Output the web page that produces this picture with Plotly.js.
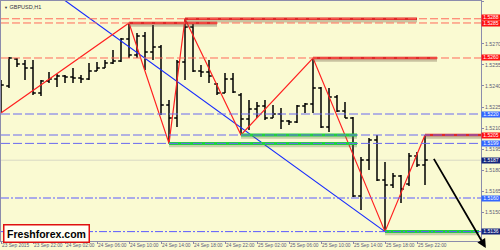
<!DOCTYPE html>
<html><head><meta charset="utf-8">
<script src="https://cdn.plot.ly/plotly-3.0.1.min.js"></script>
<style>html,body{margin:0;padding:0;background:#FAFAD2;}#chart{width:500px;height:250px;}</style>
</head><body><div id="chart"></div>
<script>
// ---- DATA ----
const firstBar = [2015, 9, 23, 18]; // GBPUSD H1, first bar 23 Sep 2015 18:00
const opens  = [1.5230,1.5240,1.52593,1.52557,1.52529,1.5235,1.52436,1.5245,1.52471,1.52464,1.52457,1.5245,1.52507,1.52529,1.52564,1.52579,1.52736,1.52621,1.52757,1.52643,1.52679,1.52264,1.52171,1.52571,1.52821,1.52507,1.5250,1.52414,1.5235,1.5245,1.52336,1.52164,1.52236,1.52257,1.52171,1.5220,1.5215,1.52143,1.52257,1.52271,1.52386,1.52107,1.52321,1.52221,1.52171,1.51614,1.51871,1.52014,1.51729,1.51693,1.51757,1.5170,1.5190,1.51836];
const highs  = [1.52443,1.52607,1.5260,1.52586,1.52586,1.52443,1.5250,1.52486,1.52479,1.52529,1.52479,1.52564,1.52571,1.52586,1.52657,1.52743,1.5285,1.52779,1.52786,1.52836,1.52693,1.5230,1.52586,1.5288,1.52843,1.5255,1.52586,1.52421,1.52493,1.52493,1.5235,1.5230,1.52286,1.5230,1.52264,1.52243,1.52157,1.52264,1.52279,1.5260,1.52393,1.52386,1.52336,1.52286,1.52179,1.51893,1.52029,1.5205,1.51857,1.51779,1.51764,1.51921,1.51929,1.5205];
const lows   = [1.52207,1.52386,1.52536,1.52443,1.52336,1.52329,1.52421,1.52393,1.52421,1.52421,1.52421,1.52443,1.52507,1.52529,1.52557,1.52571,1.5260,1.5260,1.52514,1.52586,1.52193,1.5199,1.52107,1.52443,1.5250,1.52464,1.52421,1.52336,1.5235,1.5235,1.5205,1.52086,1.52171,1.52157,1.52171,1.52093,1.52121,1.52136,1.52207,1.52207,1.5210,1.52071,1.52214,1.52171,1.51607,1.51514,1.5180,1.51721,1.5136,1.51671,1.51564,1.51686,1.51821,1.51693];
const closes = [1.52407,1.5260,1.52557,1.52529,1.5235,1.52436,1.5245,1.52471,1.52464,1.52457,1.5245,1.52507,1.52529,1.52564,1.52579,1.52736,1.52621,1.52757,1.52643,1.52679,1.52264,1.52171,1.52571,1.52821,1.52507,1.5250,1.52471,1.5235,1.5245,1.52357,1.52164,1.52236,1.52257,1.52171,1.5220,1.5215,1.52143,1.52257,1.52271,1.52386,1.52107,1.52321,1.52221,1.52171,1.51614,1.51871,1.52014,1.51729,1.51693,1.51757,1.51664,1.5190,1.51836,1.51871];

const zigzagTimes  = ['2015-09-23 18:00','2015-09-24 10:00','2015-09-24 15:00','2015-09-24 17:00','2015-09-25 00:00','2015-09-25 09:00','2015-09-25 18:00','2015-09-25 23:00'];
const zigzagPrices = [1.52207,1.5285,1.5199,1.5288,1.5205,1.5260,1.5136,1.5205];

const trendTimes  = ['2015-09-24 02:00','2015-09-25 18:00'];
const trendPrices = [1.5301,1.5136];

const redLevels  = [1.5288,1.5285,1.5260,1.5205];
const redFrom    = ['2015-09-24 17:00','2015-09-24 10:00','2015-09-25 09:00','2015-09-25 23:00'];
const redTo      = ['2015-09-25 22:00','2015-09-24 21:00','2015-09-26 00:30','2015-09-26 06:00'];
const greenLevels = [1.5205,1.5199,1.5136];
const greenFrom   = ['2015-09-25 00:00','2015-09-24 15:00','2015-09-25 18:00'];
const greenTo     = ['2015-09-25 14:30','2015-09-25 14:30','2015-09-26 05:45'];

const redDashed   = [1.5288,1.5285,1.5260];
const blueDashed  = [1.5220,1.5205,1.5199];
const blueDashDot = [1.5160,1.5136];
const bidPrice    = 1.5187;

const tagValues = [1.5288,1.5285,1.5260,1.5205,1.5220,1.5199,1.5160,1.5187,1.5136];
const tagColors = ['#FF1010','#FF1010','#FF1010','#FF1010','#3366FF','#3366FF','#3366FF','#14247A','#14247A'];

const arrowFrom = ['2015-09-26 00:00', 1.5189];
const arrowTo   = ['2015-09-26 06:36', 1.51243];

const priceTicks = [1.5150,1.5165,1.5180,1.5195,1.5210,1.5225,1.5240,1.5255,1.5270,1.5300];
const tickTimes  = ['2015-09-23 18:00','2015-09-23 22:00','2015-09-24 02:00','2015-09-24 06:00','2015-09-24 10:00','2015-09-24 14:00','2015-09-24 18:00','2015-09-24 22:00','2015-09-25 02:00','2015-09-25 06:00','2015-09-25 10:00','2015-09-25 14:00','2015-09-25 18:00','2015-09-25 22:00'];
const tickLabels = ['23 Sep 2015','23 Sep 22:00','24 Sep 02:00','24 Sep 06:00','24 Sep 10:00','24 Sep 14:00','24 Sep 18:00','24 Sep 22:00','25 Sep 02:00','25 Sep 06:00','25 Sep 10:00','25 Sep 14:00','25 Sep 18:00','25 Sep 22:00'];

const xRange = ['2015-09-23 18:00','2015-09-26 06:00'];
const yRange = [1.51293,1.53007];

// ---- BUILD ----
function pad(n){return (n<10?'0':'')+n;}
const times = opens.map((_, k) => {
  const d = new Date(Date.UTC(firstBar[0], firstBar[1]-1, firstBar[2], firstBar[3] + k));
  return d.getUTCFullYear()+'-'+pad(d.getUTCMonth()+1)+'-'+pad(d.getUTCDate())+' '+pad(d.getUTCHours())+':00';
});

const FONT = 'Liberation Sans, Arial, sans-serif';
const BG = '#FAFAD2';

const traces = [
  {type:'ohlc', x:times, open:opens, high:highs, low:lows, close:closes,
   increasing:{line:{color:'#000000', width:1.5}}, decreasing:{line:{color:'#000000', width:1.5}},
   tickwidth:0.35, hoverinfo:'skip', showlegend:false},
  {type:'scatter', mode:'lines', x:trendTimes, y:trendPrices, line:{color:'#1428FF', width:1.2}, hoverinfo:'skip', showlegend:false},
  {type:'scatter', mode:'lines', x:zigzagTimes, y:zigzagPrices, line:{color:'#FF2020', width:1.2}, hoverinfo:'skip', showlegend:false}
];

const shapes = [];
shapes.push({type:'line', xref:'paper', x0:0, x1:1, yref:'y', y0:bidPrice, y1:bidPrice, line:{color:'#D8D8C4', width:1}, layer:'below'});
greenLevels.forEach((v,i)=>{
  shapes.push({type:'line', xref:'x', x0:greenFrom[i], x1:greenTo[i], yref:'y', ysizemode:'pixel', yanchor:v, y0:-1.5, y1:-1.5, line:{color:'rgba(90,110,70,0.3)', width:4.5}});
  shapes.push({type:'line', xref:'x', x0:greenFrom[i], x1:greenTo[i], yref:'y', y0:v, y1:v, line:{color:'#22D040', width:3}});
});
redLevels.forEach((v,i)=>{
  shapes.push({type:'line', xref:'x', x0:redFrom[i], x1:redTo[i], yref:'y', ysizemode:'pixel', yanchor:v, y0:-1.5, y1:-1.5, line:{color:'rgba(110,90,70,0.35)', width:4.5}});
  shapes.push({type:'line', xref:'x', x0:redFrom[i], x1:redTo[i], yref:'y', y0:v, y1:v, line:{color:'#E02828', width:2.5}});
});
redDashed.forEach(v=>shapes.push({type:'line', xref:'paper', x0:0, x1:1, yref:'y', y0:v, y1:v, line:{color:'#FF6A5A', width:1, dash:'8px,3px'}}));
blueDashed.forEach(v=>shapes.push({type:'line', xref:'paper', x0:0, x1:1, yref:'y', y0:v, y1:v, line:{color:'#6A6AF0', width:1, dash:'9px,3px'}}));
blueDashDot.forEach(v=>shapes.push({type:'line', xref:'paper', x0:0, x1:1, yref:'y', y0:v, y1:v, line:{color:'#5A5AFF', width:1, dash:'8px,2px,2px,2px'}}));

const annotations = [];
const tagNudge = [1, -1, 0, 0, 0, 0, 0, 0, 0];
tagValues.forEach((v,i)=>annotations.push({xref:'paper', x:1, xanchor:'left', xshift:0, yref:'y', y:v, yanchor:'middle', yshift:tagNudge[i],
  text:v.toFixed(4), showarrow:false, bgcolor:tagColors[i], width:18, height:4.8, borderpad:0,
  font:{family:FONT, size:5, color:'#FFFFFF'}}));
tickTimes.forEach((t,i)=>annotations.push({xref:'x', x:t, xanchor:'left', xshift:0, yref:'paper', y:0, yanchor:'top', yshift:-0.5,
  text:tickLabels[i], showarrow:false, borderpad:0, font:{family:FONT, size:4.8, color:'#5A5A78'}}));
annotations.push({xref:'x', yref:'y', x:arrowTo[0], y:arrowTo[1], axref:'x', ayref:'y', ax:arrowFrom[0], ay:arrowFrom[1],
  showarrow:true, arrowhead:2, arrowsize:1, arrowwidth:1.8, arrowcolor:'#000000', text:''});
annotations.push({xref:'paper', yref:'paper', x:0, y:1, xanchor:'left', yanchor:'top', xshift:1, yshift:-1,
  text:'<span style="font-size:4px">▼</span> GBPUSD,H1', showarrow:false, font:{family:FONT, size:5.5, color:'#333344'}});
annotations.push({xref:'paper', yref:'paper', x:0.0042, y:-0.008, xanchor:'left', yanchor:'bottom',
  text:'<b>Freshforex.com</b>', showarrow:false, bgcolor:'#FFFFF4', bordercolor:'#E01010', borderwidth:1.5,
  width:82, height:14, borderpad:1, font:{family:FONT, size:10.5, color:'#000000'}});

const layout = {
  width:500, height:250,
  margin:{l:1, r:19, t:1, b:9, pad:0},
  paper_bgcolor:BG, plot_bgcolor:BG,
  showlegend:false,
  xaxis:{type:'date', range:xRange, showgrid:false, zeroline:false, rangeslider:{visible:false},
    tickvals:tickTimes, ticks:'outside', ticklen:2, tickcolor:'#8888AA', showticklabels:false,
    showline:true, mirror:true, linecolor:'#8C8CAC', linewidth:1, fixedrange:true},
  yaxis:{side:'right', range:yRange, showgrid:false, zeroline:false, tickvals:priceTicks, tickformat:'.4f',
    ticks:'outside', ticklen:2, tickcolor:'#8888AA', tickfont:{family:FONT, size:5.2, color:'#5A5A78'},
    showline:true, mirror:true, linecolor:'#8C8CAC', linewidth:1, fixedrange:true},
  shapes:shapes, annotations:annotations
};
Plotly.newPlot('chart', traces, layout, {staticPlot:true, displayModeBar:false});
</script>
</body></html>
